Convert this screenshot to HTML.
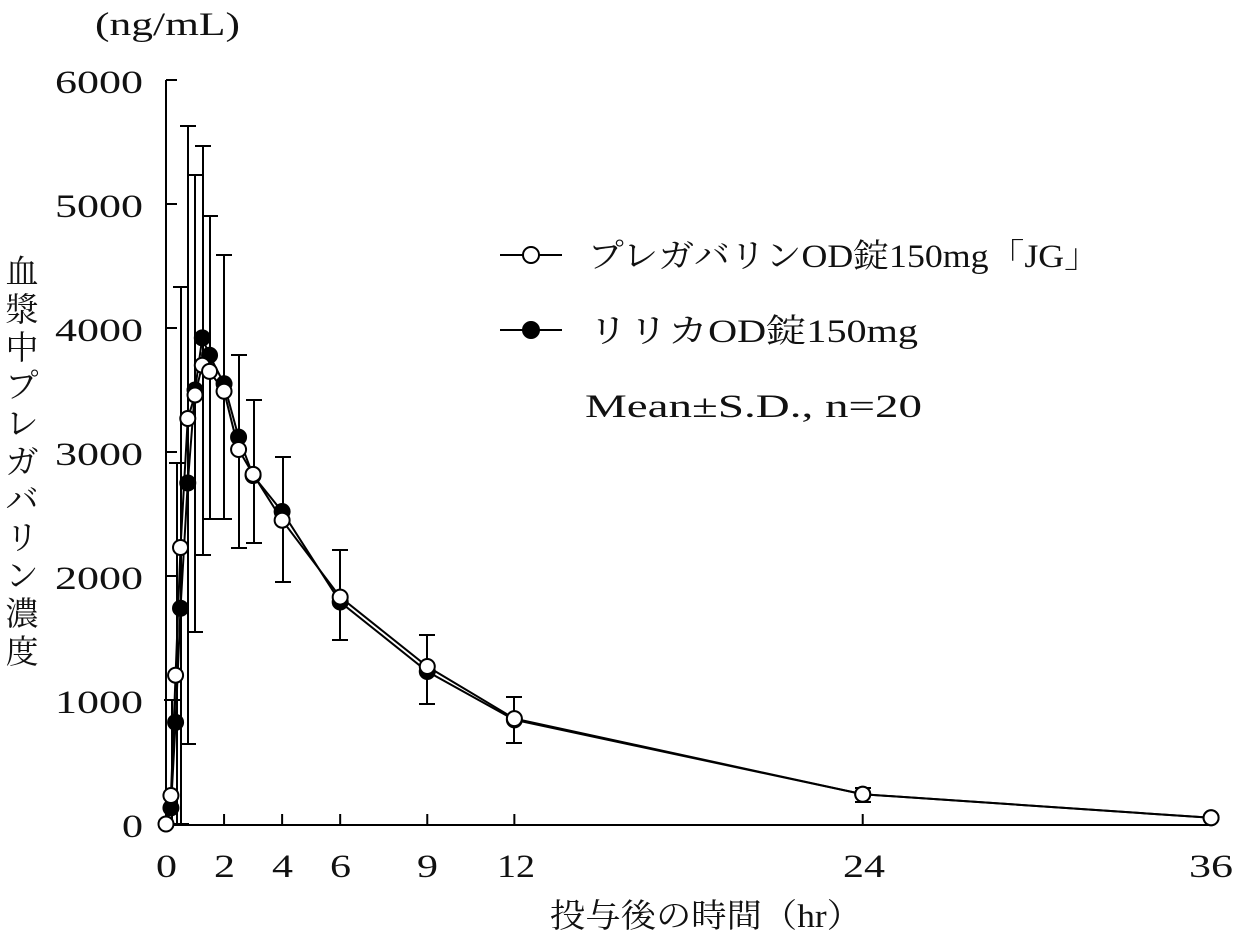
<!DOCTYPE html>
<html><head><meta charset="utf-8"><style>
html,body{margin:0;padding:0;background:#fff}
svg{display:block;font-family:"Liberation Serif","Noto Serif CJK JP","Noto Serif CJK SC",serif}
</style></head><body>
<svg id="s" width="1237" height="938" viewBox="0 0 1237 938" xmlns="http://www.w3.org/2000/svg">
<g stroke="#000" stroke-width="2" fill="none">
<line x1="166" y1="80" x2="166" y2="825"/>
<line x1="165" y1="825" x2="1212" y2="825"/>
</g>
<g font-size="33" fill="#111" lengthAdjust="spacingAndGlyphs">
<text x="55" y="93" textLength="88" lengthAdjust="spacingAndGlyphs">6000</text>
<text x="55" y="217" textLength="88" lengthAdjust="spacingAndGlyphs">5000</text>
<text x="55" y="341" textLength="88" lengthAdjust="spacingAndGlyphs">4000</text>
<text x="55" y="465" textLength="88" lengthAdjust="spacingAndGlyphs">3000</text>
<text x="55" y="589" textLength="88" lengthAdjust="spacingAndGlyphs">2000</text>
<text x="55" y="713" textLength="88" lengthAdjust="spacingAndGlyphs">1000</text>
<text x="122" y="837" textLength="21" lengthAdjust="spacingAndGlyphs">0</text>
</g>
<g font-size="33" fill="#111">
<text x="156" y="877" textLength="21" lengthAdjust="spacingAndGlyphs">0</text>
<text x="214" y="877" textLength="21" lengthAdjust="spacingAndGlyphs">2</text>
<text x="272" y="877" textLength="21" lengthAdjust="spacingAndGlyphs">4</text>
<text x="330" y="877" textLength="21" lengthAdjust="spacingAndGlyphs">6</text>
<text x="417" y="877" textLength="21" lengthAdjust="spacingAndGlyphs">9</text>
<text x="497" y="877" textLength="38" lengthAdjust="spacingAndGlyphs">12</text>
<text x="843" y="877" textLength="42" lengthAdjust="spacingAndGlyphs">24</text>
<text x="1189" y="877" textLength="44" lengthAdjust="spacingAndGlyphs">36</text>
<text x="550" y="927" textLength="312" lengthAdjust="spacingAndGlyphs">投与後の時間（hr）</text>
<text x="95" y="35" textLength="145" lengthAdjust="spacingAndGlyphs">(ng/mL)</text>
</g>
<g font-size="33" fill="#111" text-anchor="middle">
<text x="22" y="283">血</text><text x="22" y="321">漿</text><text x="22" y="359">中</text><text x="22" y="397">プ</text>
<text x="22" y="435">レ</text><text x="22" y="473">ガ</text><text x="22" y="511">バ</text><text x="22" y="549">リ</text>
<text x="22" y="587">ン</text><text x="22" y="625">濃</text><text x="22" y="663">度</text>
</g>
<g stroke="#000" stroke-width="2"><line x1="500" y1="255" x2="562" y2="255"/><line x1="500" y1="330" x2="562" y2="330"/></g>
<circle cx="531" cy="255" r="8" fill="#fff" stroke="#000" stroke-width="2"/>
<circle cx="531" cy="330" r="8" fill="#000" stroke="#000" stroke-width="2"/>
<g font-size="33" fill="#111">
<text x="588" y="267" textLength="512" lengthAdjust="spacingAndGlyphs">プレガバリンOD錠150mg「JG」</text>
<text x="588" y="342" textLength="330" lengthAdjust="spacingAndGlyphs">リリカOD錠150mg</text>
<text x="585" y="417" textLength="337" lengthAdjust="spacingAndGlyphs">Mean±S.D., n=20</text>
</g>
<g id="g"></g>
</svg>
<script>
var X=function(t){return 166+t*29.03},Y=function(v){return 824-v*0.124};
var s='';
for(var i=1;i<=6;i++){var y=Y(i*1000);s+='<line x1="166" y1="'+y+'" x2="177" y2="'+y+'" stroke="#000" stroke-width="2"/>';}
[2,4,6,9,12,24].forEach(function(t){s+='<line x1="'+X(t)+'" y1="825" x2="'+X(t)+'" y2="814" stroke="#000" stroke-width="2"/>';});
var eb=[[172,700,824],[177,463,824],[181,287,824],[188,126,744],[195,175,632],[203,146,555],[210,216,519],[224,255,519],[239,355,548],[254,400,543],[283,457,582],[340,550,640],[427,635,704],[514,697,743],[863,788,802]];
eb.forEach(function(e){s+='<g stroke="#000" stroke-width="2"><line x1="'+e[0]+'" y1="'+e[1]+'" x2="'+e[0]+'" y2="'+e[2]+'"/><line x1="'+(e[0]-8)+'" y1="'+e[1]+'" x2="'+(e[0]+8)+'" y2="'+e[1]+'"/><line x1="'+(e[0]-8)+'" y1="'+e[2]+'" x2="'+(e[0]+8)+'" y2="'+e[2]+'"/></g>';});
var t=[0,0.17,0.33,0.5,0.75,1,1.25,1.5,2,2.5,3,4,6,9,12,24,36];
var b=[0,130,820,1740,2750,3500,3920,3780,3550,3120,2810,2520,1790,1230,840,240,50];
var w=[0,230,1200,2230,3270,3460,3700,3650,3490,3020,2820,2450,1830,1270,850,240,50];
function line(d){return t.map(function(tt,i){return X(tt)+','+Y(d[i]);}).join(' ');}
s+='<polyline points="'+line(b)+'" fill="none" stroke="#000" stroke-width="2"/>';
s+='<polyline points="'+line(w)+'" fill="none" stroke="#000" stroke-width="2"/>';
t.forEach(function(tt,i){if(i>0)s+='<circle cx="'+X(tt)+'" cy="'+Y(b[i])+'" r="7.5" fill="#000" stroke="#000" stroke-width="2"/>';});
t.forEach(function(tt,i){s+='<circle cx="'+X(tt)+'" cy="'+Y(w[i])+'" r="7.5" fill="#fff" stroke="#000" stroke-width="2"/>';});
document.getElementById('g').innerHTML=s;
</script>
</body></html>
